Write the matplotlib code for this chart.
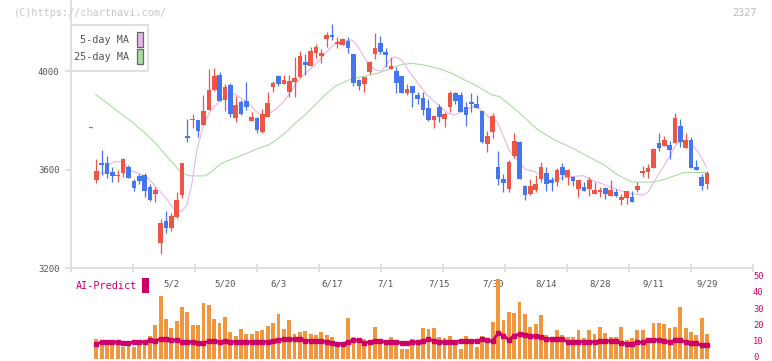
import matplotlib
matplotlib.use("Agg")
import matplotlib.pyplot as plt
from matplotlib.patches import Rectangle
import numpy as np

# ---------------- data ----------------
opens = [3769, 3557, 3626, 3626, 3591, 3572, 3586, 3610, 3553, 3574, 3578, 3529, 3499, 3303, 3391, 3364,
         3408, 3498, 3736, 3799, 3801, 3782, 3843, 3923, 3984, 3882, 3943, 3810, 3873, 3878, 3798, 3810,
         3753, 3812, 3936, 3980, 3946, 3916, 3957, 3977, 4037, 4022, 4074, 4062, 4131, 4147, 4111, 4106,
         4122, 4069, 3963, 3949, 3996, 4069, 4115, 4078, 4008, 4001, 3980, 3912, 3939, 3902, 3892, 3851,
         3801, 3855, 3804, 3855, 3909, 3902, 3853, 3874, 3866, 3838, 3705, 3753, 3610, 3563, 3522, 3656,
         3713, 3533, 3499, 3518, 3561, 3586, 3559, 3550, 3610, 3571, 3570, 3522, 3529, 3522, 3502, 3510,
         3524, 3493, 3509, 3477, 3485, 3488, 3518, 3587, 3591, 3606, 3708, 3697, 3701, 3709, 3777, 3689,
         3720, 3610, 3570, 3541]
highs = [3773, 3643, 3679, 3655, 3612, 3598, 3647, 3618, 3561, 3582, 3585, 3540, 3529, 3399, 3433, 3422,
         3510, 3626, 3805, 3824, 3801, 3903, 4007, 4011, 3997, 3946, 3950, 3898, 3882, 3957, 3835, 3812,
         3846, 3913, 3959, 3984, 3984, 3984, 4058, 4082, 4069, 4099, 4110, 4089, 4160, 4191, 4138, 4134,
         4139, 4069, 3968, 3974, 4041, 4154, 4142, 4093, 4057, 4015, 3980, 3947, 3939, 3913, 3915, 3886,
         3821, 3865, 3832, 3919, 3913, 3916, 3873, 3911, 3902, 3838, 3756, 3828, 3675, 3582, 3639, 3748,
         3716, 3537, 3561, 3578, 3632, 3610, 3571, 3605, 3627, 3602, 3572, 3559, 3550, 3570, 3550, 3529,
         3530, 3557, 3522, 3500, 3513, 3513, 3548, 3614, 3622, 3689, 3748, 3736, 3716, 3829, 3805, 3748,
         3732, 3639, 3583, 3595]
lows = [3769, 3546, 3578, 3567, 3550, 3550, 3571, 3565, 3514, 3541, 3490, 3474, 3469, 3258, 3343, 3350,
        3405, 3486, 3712, 3767, 3733, 3782, 3843, 3920, 3878, 3839, 3814, 3794, 3820, 3842, 3798, 3747,
        3748, 3812, 3916, 3940, 3946, 3896, 3896, 3970, 3984, 4020, 4054, 4031, 4099, 4126, 4095, 4106,
        4074, 3940, 3923, 3916, 3988, 4049, 4070, 4015, 4008, 3911, 3911, 3903, 3854, 3867, 3821, 3797,
        3770, 3794, 3773, 3834, 3865, 3835, 3777, 3835, 3850, 3708, 3672, 3729, 3538, 3510, 3510, 3645,
        3561, 3476, 3496, 3507, 3550, 3514, 3514, 3534, 3559, 3538, 3534, 3488, 3512, 3492, 3502, 3488,
        3480, 3493, 3488, 3456, 3461, 3467, 3510, 3568, 3567, 3606, 3676, 3697, 3643, 3709, 3691, 3689,
        3606, 3599, 3518, 3521]
closes = [3773, 3594, 3619, 3583, 3575, 3576, 3643, 3567, 3526, 3555, 3514, 3477, 3517, 3383, 3364, 3411,
          3476, 3626, 3729, 3803, 3758, 3838, 3923, 3980, 3878, 3935, 3825, 3862, 3824, 3855, 3813, 3760,
          3827, 3869, 3950, 3948, 3962, 3959, 3970, 4061, 4023, 4081, 4097, 4074, 4147, 4139, 4118, 4130,
          4095, 3953, 3940, 3974, 4037, 4092, 4076, 4065, 4020, 3953, 3911, 3927, 3912, 3886, 3842, 3801,
          3818, 3814, 3827, 3911, 3879, 3835, 3821, 3865, 3850, 3713, 3736, 3817, 3563, 3546, 3632, 3716,
          3563, 3496, 3533, 3541, 3610, 3542, 3546, 3598, 3578, 3598, 3555, 3559, 3513, 3559, 3517, 3518,
          3502, 3517, 3493, 3487, 3513, 3469, 3534, 3594, 3606, 3683, 3689, 3720, 3679, 3809, 3713, 3720,
          3606, 3599, 3534, 3586]

# 5-day / 25-day moving average (candle position, price)
ma5_pos = [1.1, 2.3, 3.3, 4.5, 6.0, 7.0, 8.8, 10.7, 12.3, 13.8, 15.4, 16.9, 17.9, 18.8, 19.7, 21.0, 22.2,
           23.8, 25.6, 26.9, 28.1, 29.7, 31.2, 32.8, 34.3, 35.9, 37.5, 39.2, 41.8, 44.9, 46.2, 48.7, 49.6,
           51.5, 53.0, 54.3, 55.5, 56.7, 58.0, 59.2, 60.8, 62.7, 64.8, 66.7, 67.9, 69.8, 71.7, 73.2, 74.8,
           75.8, 77.0, 78.0, 78.8, 81.0, 82.9, 85.4, 87.5, 89.7, 91.9, 93.5, 96.0, 98.4, 100.6, 103.1, 104.0,
           105.9, 107.8, 109.0, 110.3, 111.8, 113.3, 114.9]
ma5_val = [3591, 3582, 3620, 3632, 3632, 3598, 3586, 3564, 3524, 3490, 3442, 3429, 3456, 3537, 3672, 3781,
           3835, 3873, 3909, 3905, 3889, 3862, 3828, 3821, 3842, 3873, 3923, 3975, 4024, 4099, 4119, 4126,
           4106, 4038, 4004, 4000, 4038, 4058, 4045, 4004, 3957, 3903, 3862, 3828, 3821, 3842, 3859, 3835,
           3801, 3795, 3735, 3680, 3659, 3602, 3591, 3557, 3564, 3571, 3575, 3557, 3537, 3517, 3503, 3496,
           3510, 3578, 3645, 3693, 3720, 3713, 3672, 3611]
ma25_pos = [0.9, 2.6, 5.1, 7.6, 9.8, 11.7, 13.6, 15.5, 16.9, 18.5, 21.3, 22.5, 24.1, 26.6, 29.1, 31.2, 33.1,
            35.0, 36.8, 38.1, 39.9, 41.8, 43.7, 45.5, 48.0, 50.5, 53.6, 56.1, 58.0, 59.9, 62.3, 64.8, 67.3,
            69.8, 72.3, 74.8, 76.3, 78.2, 79.8, 81.4, 83.2, 86.5, 89.6, 92.6, 95.7, 98.2, 100.9, 104.9,
            106.9, 109.0, 110.7, 114.8]
ma25_val = [3905, 3876, 3835, 3794, 3753, 3715, 3667, 3620, 3585, 3574, 3574, 3591, 3622, 3645, 3666, 3686,
            3699, 3727, 3760, 3788, 3821, 3862, 3903, 3936, 3963, 3977, 3991, 4011, 4027, 4031, 4024, 4011,
            3991, 3963, 3936, 3903, 3896, 3862, 3834, 3801, 3765, 3720, 3690, 3655, 3620, 3580, 3549, 3549,
            3559, 3575, 3588, 3588]

volume = [np.nan, 12.3, 8.8, 9.7, 9.7, 8.6, 7.6, 8.0, 7.4, 9.7, 10.7, 14.2, 21.0, 39.0, 24.7, 19.1, 23.5,
          32.1, 29.0, 21.0, 21.0, 34.6, 33.3, 24.7, 22.2, 25.9, 16.7, 14.2, 18.5, 15.4, 15.4, 17.3, 17.9,
          20.4, 22.2, 27.8, 18.5, 24.1, 15.4, 16.9, 17.3, 15.4, 14.8, 16.7, 14.8, 13.6, 10.5, 10.5, 25.3,
          13.6, 13.0, 12.3, 11.7, 19.8, 11.1, 10.5, 13.6, 11.1, 6.2, 6.2, 12.3, 11.1, 19.1, 18.5, 19.1,
          13.6, 13.0, 14.2, 8.6, 6.2, 14.2, 12.3, 7.4, 14.2, 11.1, 22.8, 49.4, 24.1, 28.8, 28.7, 34.9,
          27.5, 20.0, 21.9, 26.9, 15.1, 12.6, 17.6, 15.1, 13.8, 13.8, 18.2, 13.2, 17.6, 15.7, 20.0, 16.3,
          13.8, 13.8, 20.0, 12.0, 13.2, 17.6, 17.6, 11.5, 22.5, 22.0, 21.4, 19.4, 20.0, 32.0, 19.4, 16.5,
          15.1, 25.6, 15.7]
ai_predict = [np.nan, 9.3, 10.5, 10.5, 10.5, 10.5, 9.9, 9.7, 10.5, 10.5, 10.5, 11.5, 11.1, 12.6, 12.2, 11.7,
              11.7, 10.5, 10.5, 10.5, 9.7, 9.7, 11.1, 11.1, 10.5, 11.1, 10.7, 10.5, 10.5, 10.5, 10.7, 10.7,
              10.7, 10.7, 11.4, 12.0, 12.1, 12.1, 12.1, 12.1, 11.3, 11.3, 11.3, 11.3, 10.3, 9.6, 9.3, 9.3,
              10.5, 11.8, 11.5, 10.0, 10.5, 11.1, 11.1, 10.4, 10.3, 10.5, 10.0, 9.7, 10.2, 10.7, 10.9, 12.1,
              11.3, 10.8, 10.5, 10.5, 10.5, 11.1, 11.1, 11.1, 11.1, 12.3, 11.6, 11.1, 16.0, 14.5, 11.8, 14.5,
              15.3, 14.6, 14.5, 14.0, 13.4, 12.5, 12.2, 12.2, 12.2, 10.5, 10.8, 10.8, 10.6, 10.6, 10.6, 11.2,
              11.2, 11.2, 11.2, 10.0, 9.5, 9.5, 10.3, 10.3, 11.7, 11.7, 11.7, 11.0, 10.3, 11.5, 11.5, 10.6,
              9.7, 9.6, 8.4, 8.6]

date_pos = [15, 25, 35, 45, 55, 65, 75, 85, 95, 105, 115]
date_labels = ["5/2", "5/20", "6/3", "6/17", "7/1", "7/15", "7/30", "8/14", "8/28", "9/11", "9/29"]
price_ticks = [3200, 3600, 4000]
vol_ticks = [0, 10, 20, 30, 40, 50]

# ---------------- style ----------------
UP = "#ee5544"
DOWN = "#4477ee"
MA5C = "#e8b4e8"
MA25C = "#acdba4"
GRID = "#dddddd"
TXT = "#555555"
MAG = "#cc0066"
VOLC = "#f0963c"
MONO = "DejaVu Sans Mono"

W, H = 772, 361
fig = plt.figure(figsize=(W / 100, H / 100), dpi=100)

# pixel geometry
x_left, x_right = 70.5, 753.0
px_per_candle = 5.357
x0_px = 91.0
xmin = (x_left - x0_px) / px_per_candle
xmax = (x_right - x0_px) / px_per_candle
main_bottom_px = 268.0
ppy = 98.5 / 400.0  # px per yen
ymax = 3200 + main_bottom_px / ppy

ax = fig.add_axes([x_left / W, 1 - main_bottom_px / H, (x_right - x_left) / W, main_bottom_px / H])
ax.set_xlim(xmin, xmax)
ax.set_ylim(3200, ymax)
ax.patch.set_alpha(0)

n = len(closes)
idx = np.arange(n)
o = np.array(opens, float); c = np.array(closes, float)
h = np.array(highs, float); l = np.array(lows, float)
colors = [UP if c[i] >= o[i] else DOWN for i in range(n)]
ax.vlines(idx, l, h, colors=colors, linewidth=0.9, zorder=3)
bottoms = np.minimum(o, c)
heights = np.maximum(np.abs(c - o), 5)
ax.bar(idx, heights, bottom=bottoms, width=0.86, color=colors, linewidth=0, zorder=4)

ax.plot(ma25_pos, ma25_val, color=MA25C, lw=0.8, zorder=2)
ax.plot(ma5_pos, ma5_val, color=MA5C, lw=0.8, zorder=2)

for s in ["top", "right"]:
    ax.spines[s].set_visible(False)
for s in ["left", "bottom"]:
    ax.spines[s].set_color(GRID)
    ax.spines[s].set_linewidth(1.3)
ax.set_yticks(price_ticks)
ax.set_yticklabels([str(t) for t in price_ticks], fontfamily=MONO, fontsize=6.5, color=TXT)
ax.tick_params(axis="y", length=4, width=1.3, color=GRID, pad=4)
xt = np.linspace(xmin, xmax, 12)
ax.set_xticks(xt)
ax.set_xticklabels([])
ax.tick_params(axis="x", direction="inout", length=6, width=1.3, color=GRID)

# date labels (below main axis)
y_lab = 3200 - (284 - main_bottom_px) / ppy
for p, lab in zip(date_pos, date_labels):
    ax.text(p, y_lab, lab, ha="center", va="center", fontfamily=MONO, fontsize=6.5,
            color=TXT, clip_on=False)

# ---------------- volume / AI panel ----------------
vb_top_px = 270.0
zero_px = 359.0
ppv = 1.62  # px per unit
ax2 = fig.add_axes([x_left / W, 0, (x_right - x_left) / W, (H - vb_top_px) / H])
ax2.set_xlim(xmin, xmax)
ax2.set_ylim(-(H - zero_px) / ppv, (zero_px - vb_top_px) / ppv)
ax2.patch.set_alpha(0)
ax2.bar(idx, volume, width=0.72, color=VOLC, linewidth=0, zorder=2)
ax2.plot(idx, ai_predict, color=MAG, lw=2.0, marker="s", markersize=2.3, zorder=3)
for s in ax2.spines.values():
    s.set_visible(False)
ax2.set_xticks([])
ax2.set_yticks([])
for v in vol_ticks:
    ax2.text(1.0, v + 0.8, str(v), transform=ax2.get_yaxis_transform(), ha="left", va="center",
             fontfamily=MONO, fontsize=6.3, color=MAG, clip_on=False)

# ---------------- overlay in pixel coordinates ----------------
ov = fig.add_axes([0, 0, 1, 1])
ov.set_xlim(0, W)
ov.set_ylim(H, 0)
ov.axis("off")
ov.patch.set_alpha(0)

ov.text(14, 12.5, "(C)https://chartnavi.com/", fontfamily=MONO, fontsize=7.3, color="#c8c8c8",
        ha="left", va="center")
ov.text(757, 12.5, "2327", fontfamily=MONO, fontsize=7.3, color="#bbbbbb", ha="right", va="center")

# legend box
ov.add_patch(Rectangle((70.5, 24.5), 77.5, 46.5, facecolor="white", edgecolor=GRID, lw=1.3, zorder=5))
ov.text(129.5, 40, "5-day MA", fontfamily=MONO, fontsize=7.3, color=TXT, ha="right", va="center", zorder=6)
ov.text(129.5, 57, "25-day MA", fontfamily=MONO, fontsize=7.3, color=TXT, ha="right", va="center", zorder=6)
ov.add_patch(Rectangle((136.5, 31.5), 6, 15, facecolor=MA5C, edgecolor="#666666", lw=0.9, zorder=6))
ov.add_patch(Rectangle((136.5, 48.5), 6, 15, facecolor=MA25C, edgecolor="#666666", lw=0.9, zorder=6))

# AI-Predict label
ov.text(76, 286, "AI-Predict", fontfamily=MONO, fontsize=7.3, color=MAG, ha="left", va="center")
ov.add_patch(Rectangle((142, 277.5), 6.5, 15.5, facecolor=MAG, edgecolor="none"))

fig.savefig("out.png", dpi=100)
